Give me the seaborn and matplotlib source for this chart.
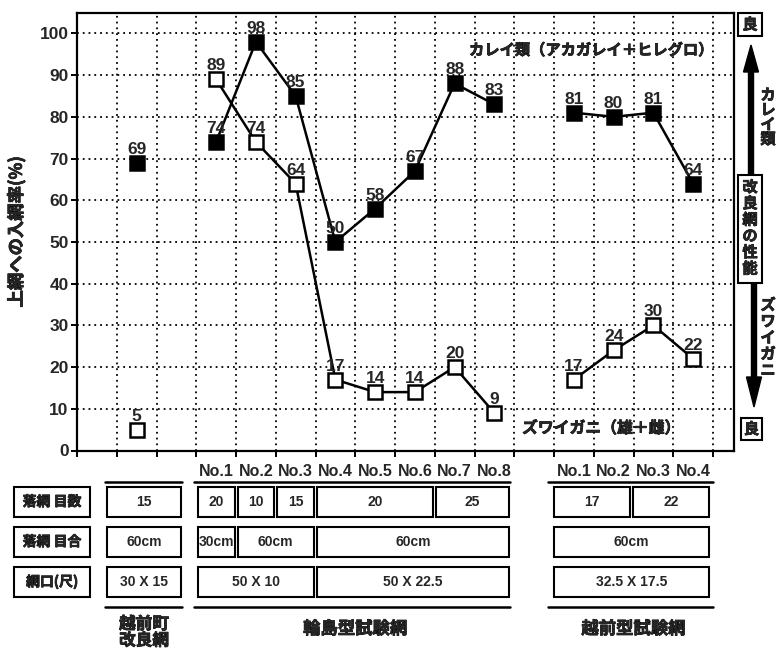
import numpy as np
import pandas as pd
import matplotlib
matplotlib.use("Agg")
import matplotlib.pyplot as plt
import matplotlib.patheffects as pe
import seaborn as sns
from matplotlib.patches import Rectangle, FancyArrow

# ---------------- data ----------------
wajima_labels = ["No.1", "No.2", "No.3", "No.4", "No.5", "No.6", "No.7", "No.8"]
echizen_labels = ["No.1", "No.2", "No.3", "No.4"]

karei_improved = [69]
karei_wajima = [74, 98, 85, 50, 58, 67, 88, 83]
karei_echizen = [81, 80, 81, 64]

zuwai_improved = [5]
zuwai_wajima = [89, 74, 64, 17, 14, 14, 20, 9]
zuwai_echizen = [17, 24, 30, 22]

y_ticks = [0, 10, 20, 30, 40, 50, 60, 70, 80, 90, 100]

row_labels = ["落網 目数", "落網 目合", "網口(尺)"]
improved_rows = ["15", "60cm", "30 X 15"]
# (text, number of test-net columns spanned)
wajima_rows = [
    [("20", 1), ("10", 1), ("15", 1), ("20", 3), ("25", 2)],
    [("30cm", 1), ("60cm", 2), ("60cm", 5)],
    [("50 X 10", 3), ("50 X 22.5", 5)],
]
echizen_rows = [
    [("17", 2), ("22", 2)],
    [("60cm", 4)],
    [("32.5 X 17.5", 4)],
]
group_names = [["越前町", "改良網"], ["輪島型試験網"], ["越前型試験網"]]

# x positions (category slots)
x_improved = [1.5]
x_wajima = [3.5 + i for i in range(len(wajima_labels))]
x_echizen = [12.5 + i for i in range(len(echizen_labels))]

# ---------------- style ----------------
sns.set_style("white")
LAT = ["Liberation Sans", "Noto Sans CJK JP", "DejaVu Sans"]
JP = ["Noto Sans CJK JP", "DejaVu Sans"]
plt.rcParams["font.family"] = LAT
plt.rcParams["font.weight"] = "bold"
BOLD = [pe.withStroke(linewidth=0.5, foreground="black")]

W, H = 781, 649
fig = plt.figure(figsize=(W / 100, H / 100), dpi=100)
fig.patch.set_facecolor("white")

ax_l, ax_r, ax_t, ax_b = 77, 734, 13, 450.5
ax = fig.add_axes([ax_l / W, 1 - ax_b / H, (ax_r - ax_l) / W, (ax_b - ax_t) / H])
ax.set_facecolor("white")

rows = []
for sp, grp, xs, vs in [
    ("karei", "imp", x_improved, karei_improved),
    ("karei", "waj", x_wajima, karei_wajima),
    ("karei", "ech", x_echizen, karei_echizen),
    ("zuwai", "imp", x_improved, zuwai_improved),
    ("zuwai", "waj", x_wajima, zuwai_wajima),
    ("zuwai", "ech", x_echizen, zuwai_echizen),
]:
    for x, v in zip(xs, vs):
        rows.append(dict(species=sp, group=grp, x=x, value=v))
df = pd.DataFrame(rows)

for (sp, grp), sub in df.groupby(["species", "group"], sort=False):
    filled = sp == "karei"
    sns.lineplot(data=sub, x="x", y="value", ax=ax, color="black", lw=1.8,
                 marker="s", markersize=10.5 if filled else 9.5,
                 markerfacecolor="black" if filled else "white",
                 markeredgecolor="black", markeredgewidth=1.8,
                 estimator=None, sort=True, legend=False,
                 zorder=4 if filled else 3)
    for x, v in zip(sub["x"], sub["value"]):
        ax.annotate(str(v), (x, v), xytext=(0, 6.5), textcoords="offset points",
                    ha="center", va="baseline", fontsize=12.5, fontweight="bold",
                    family=LAT, zorder=6)

ax.set_xlim(0, (ax_r - ax_l) / 39.75)
ax.set_ylim(0, 104.9)
ax.set_xticks(range(0, 17))
ax.set_xticklabels([])
ax.set_yticks(y_ticks)
ax.set_yticklabels([str(t) for t in y_ticks], fontsize=12.5, fontweight="bold")
ax.tick_params(axis="both", direction="out", length=4, width=1.4, color="black",
               left=True, bottom=True, pad=2)
ax.grid(True, ls=(0, (1, 2.2)), color="black", lw=1.3)
for s in ax.spines.values():
    s.set_visible(True)
    s.set_color("black")
    s.set_linewidth(1.6)
ax.set_xlabel("")
ylab = ax.set_ylabel("上網への入網率(%)", family=JP, fontsize=12.5, fontweight="bold", labelpad=10)
ylab.set_path_effects(BOLD)

# ---------------- overlay (pixel coords) ----------------
oax = fig.add_axes([0, 0, 1, 1], zorder=5)
oax.set_xlim(0, W)
oax.set_ylim(H, 0)
oax.axis("off")
oax.patch.set_alpha(0)


def px(xd):
    return ax.transData.transform((xd, 0))[0]


def jtext(x, y, s, size=11, **kw):
    kw.setdefault("ha", "center")
    kw.setdefault("va", "center")
    return oax.text(x, y, s, family=JP, fontsize=size, fontweight="bold",
                    path_effects=BOLD, **kw)


# in-plot annotations
jtext(713, 50, "カレイ類（アカガレイ＋ヒレグロ）", 11, ha="right")
jtext(522, 428, "ズワイガニ（雄＋雌）", 11.4, ha="left")

# right side scale
def box(x0, y0, x1, y1, lw=1.5):
    oax.add_patch(Rectangle((x0, y0), x1 - x0, y1 - y0, fill=False,
                            ec="black", lw=lw, clip_on=False))

box(738, 13, 762, 36)
jtext(750, 24.5, "良", 11)
box(738, 175, 762, 283)
for i, ch in enumerate("改良網の性能"):
    jtext(750, 187 + i * 16.3, ch, 11)
box(741, 418, 762, 440)
jtext(751.5, 429, "良", 11)

oax.add_patch(FancyArrow(751, 174, 0, -129, width=5, head_width=15, head_length=27,
                         length_includes_head=True, color="black", clip_on=False))
oax.add_patch(FancyArrow(754, 284, 0, 123, width=5, head_width=15, head_length=30,
                         length_includes_head=True, color="black", clip_on=False))
for i, ch in enumerate("カレイ類"):
    jtext(768, 95 + i * 14.7, ch, 11)
for i, ch in enumerate("ズワイガニ"):
    jtext(768, 305 + i * 16.3, ch, 11)

# ---------------- table below ----------------
row_y = [(487, 517), (527, 557), (567, 597)]
line_top, line_bot = 482, 607

# column header labels
for lab, x in zip(wajima_labels, x_wajima):
    oax.text(px(x), 472, lab, fontsize=11.5, fontweight="bold", ha="center", va="center", family=LAT)
for lab, x in zip(echizen_labels, x_echizen):
    oax.text(px(x), 472, lab, fontsize=11.5, fontweight="bold", ha="center", va="center", family=LAT)

# row label boxes
for lab, (y0, y1) in zip(row_labels, row_y):
    box(14, y0, 90, y1)
    jtext(52, (y0 + y1) / 2, lab, 10)

# improved net column
imp_x0, imp_x1 = px(0.75), px(2.62)
for txt, (y0, y1) in zip(improved_rows, row_y):
    box(imp_x0, y0, imp_x1, y1)
    oax.text((imp_x0 + imp_x1) / 2, (y0 + y1) / 2, txt, fontsize=10, fontweight="bold",
             ha="center", va="center", family=LAT)
for yy in (line_top, line_bot):
    oax.plot([px(0.7), px(2.65)], [yy, yy], color="black", lw=1.8)


def span_row(cells, x_start, y0, y1, last_end=None):
    col = 0
    n_total = sum(n for _, n in cells)
    for txt, n in cells:
        a = x_start + col
        b = x_start + col + n
        xa = px(a) + 1.5
        xb = px(b) - 1.5
        if last_end is not None and col + n == n_total:
            xb = px(last_end)
        box(xa, y0, xb, y1)
        oax.text((xa + xb) / 2, (y0 + y1) / 2, txt, fontsize=10, fontweight="bold",
                 ha="center", va="center", family=LAT)
        col += n


for cells, (y0, y1) in zip(wajima_rows, row_y):
    span_row(cells, 3, y0, y1, last_end=10.87)
for cells, (y0, y1) in zip(echizen_rows, row_y):
    span_row(cells, 11.95, y0, y1, last_end=15.9)

for yy in (line_top, line_bot):
    oax.plot([px(2.95), px(10.9)], [yy, yy], color="black", lw=1.8)
    oax.plot([px(11.85), px(16.0)], [yy, yy], color="black", lw=1.8)

# group names
for i, line in enumerate(group_names[0]):
    jtext((imp_x0 + imp_x1) / 2, 624 + i * 16.5, line, 12)
jtext(px(7.0), 629, group_names[1][0], 12.5)
jtext(px(14.0), 629, group_names[2][0], 12.5)

fig.savefig("out.png", dpi=100)
